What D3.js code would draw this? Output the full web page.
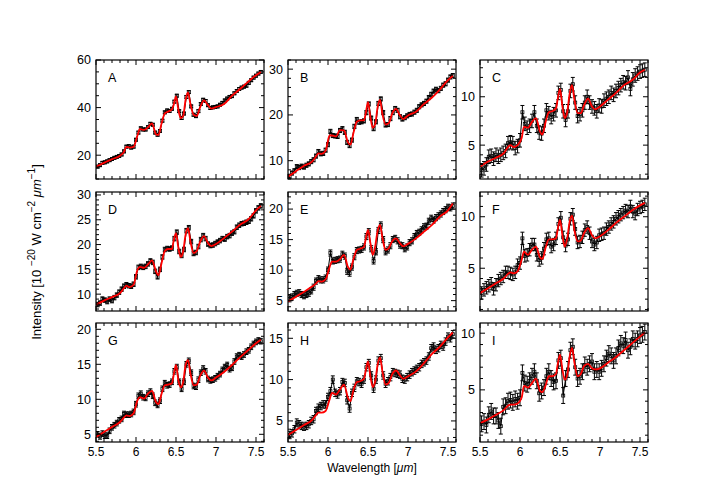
<!DOCTYPE html>
<html>
<head>
<meta charset="utf-8">
<script src="https://cdn.jsdelivr.net/npm/d3@7"></script>
<style>
body { margin: 0; background: #fff; }
text { font-family: "Liberation Sans", Arial, sans-serif; }
</style>
</head>
<body>
<script>
var w = 717, h = 502;

// observed wavelengths (micron)
var wave = [5.52,5.55,5.58,5.61,5.64,5.67,5.70,5.73,5.76,5.79,5.82,5.85,5.88,5.91,5.94,5.97,6.00,6.03,6.06,6.09,
  6.12,6.15,6.18,6.21,6.24,6.27,6.30,6.33,6.36,6.39,6.42,6.45,6.48,6.51,6.54,6.57,6.60,6.63,6.66,6.69,
  6.72,6.75,6.78,6.81,6.84,6.87,6.90,6.93,6.96,6.99,7.02,7.05,7.08,7.11,7.14,7.17,7.20,7.23,7.26,7.29,
  7.32,7.35,7.38,7.41,7.44,7.47,7.50,7.53,7.56];

// model (fit) wavelengths
var modelWave = [5.50,5.60,5.70,5.80,5.85,5.88,5.92,5.97,6.02,6.05,6.10,6.15,6.20,6.25,6.28,6.32,6.36,6.40,6.45,6.47,
  6.50,6.53,6.56,6.59,6.62,6.65,6.68,6.72,6.76,6.80,6.85,6.90,6.94,7.00,7.10,7.20,7.30,7.40,7.50,7.56];

var dataA = [15.2,15.8,16.8,17.0,17.4,17.9,18.4,18.9,19.3,19.7,20.3,21.6,23.6,23.8,23.2,23.6,26.5,29.5,31.3,30.8,
  30.8,31.8,33.2,32.8,29.5,28.6,30.2,34.5,38.0,38.8,38.6,39.5,42.5,45.0,38.5,35.6,37.5,44.5,46.5,40.5,
  37.0,36.4,38.5,41.5,43.3,42.8,41.0,39.8,40.1,40.3,40.5,41.2,42.0,43.0,43.8,44.5,44.8,46.0,47.0,47.8,
  48.4,48.8,49.2,50.4,51.5,52.6,53.4,54.3,55.0];
var dataB = [6.6,7.3,7.8,8.7,8.5,8.8,8.6,9.0,9.3,9.8,10.2,11.0,12.0,11.5,11.6,12.3,13.5,16.4,15.5,15.4,
  15.3,16.6,17.0,16.2,14.0,13.3,14.5,17.5,19.0,18.4,18.5,18.7,20.5,22.4,19.3,17.0,18.5,22.5,23.5,20.5,
  17.8,17.9,19.2,20.5,21.4,21.0,19.6,19.1,19.4,19.8,20.1,20.2,20.6,21.0,21.8,22.2,22.5,23.0,23.8,24.5,
  25.2,25.6,25.3,25.8,26.5,26.8,27.6,28.3,28.6];
var dataC = [2.4,2.6,3.0,3.8,3.9,3.6,4.0,3.8,4.0,4.2,4.4,5.2,5.3,5.2,4.7,4.9,5.5,8.4,7.2,6.8,
  7.0,7.5,8.4,7.0,6.3,6.2,7.0,8.6,8.3,7.9,8.2,8.6,10.4,10.7,8.5,7.6,8.5,10.6,11.3,9.4,
  8.0,8.2,8.6,9.4,10.0,9.4,9.0,8.8,8.5,9.1,9.0,9.6,9.8,10.0,10.4,10.2,10.6,10.9,11.2,11.5,
  11.4,12.0,10.8,11.8,12.2,12.4,12.6,12.7,12.8];
var dataD = [7.9,8.2,9.0,8.8,8.5,9.0,8.7,9.3,9.8,10.4,11.0,11.6,11.9,11.7,11.6,12.0,13.5,15.4,15.6,15.4,
  15.6,16.1,16.7,16.4,14.6,13.5,15.0,17.5,19.0,19.2,19.1,19.3,21.2,22.5,18.6,17.8,19.0,22.8,23.4,20.6,
  18.2,18.4,19.6,21.0,21.8,21.2,20.1,19.8,19.9,20.2,20.5,20.8,21.2,21.1,21.6,21.8,22.3,22.6,23.5,23.9,
  24.2,24.3,24.5,24.7,25.2,25.8,26.8,27.4,27.8];
var dataE = [5.3,5.6,6.0,6.2,6.3,6.0,5.8,6.0,6.2,6.6,7.2,8.2,8.6,8.4,8.4,8.7,10.0,12.8,11.5,11.6,
  11.7,11.8,12.6,12.3,9.8,9.5,10.5,12.2,13.2,13.3,13.4,13.8,15.5,16.3,13.5,11.5,13.0,16.5,17.4,15.0,
  13.0,13.3,14.0,15.0,15.2,14.8,14.1,14.0,13.5,13.8,14.5,14.8,15.5,16.0,16.2,16.6,17.1,17.2,18.0,18.5,
  18.2,18.6,18.9,19.2,19.6,19.9,20.3,20.2,20.5];
var dataF = [2.6,2.9,3.1,3.3,3.5,3.0,3.4,3.8,4.0,4.2,4.6,4.6,4.5,4.4,4.6,5.3,5.5,7.9,6.2,6.3,
  6.8,7.3,7.3,6.3,5.8,6.0,6.9,7.8,7.9,7.1,7.3,7.9,9.3,9.9,8.0,7.2,7.8,9.8,10.2,8.8,
  7.5,7.6,8.0,8.7,9.0,8.4,7.6,7.3,7.5,8.2,8.3,8.4,8.8,9.0,9.3,9.5,9.8,10.0,10.2,10.4,
  10.6,10.5,11.0,10.5,10.3,10.7,10.9,11.0,11.2];
var dataG = [5.0,4.7,5.1,4.8,4.8,5.5,6.0,6.3,6.6,7.0,7.2,7.9,7.8,7.8,7.9,8.2,9.3,10.5,10.8,10.3,
  10.2,10.8,11.1,10.5,9.5,9.2,9.8,11.5,12.3,12.0,12.1,12.5,14.0,14.6,12.5,11.5,12.5,15.0,15.5,13.8,
  11.9,11.8,12.8,13.8,14.4,14.0,12.9,12.7,12.8,13.0,13.3,13.6,14.2,14.6,14.9,14.3,14.5,15.4,16.1,16.3,
  16.1,16.4,16.8,17.0,17.5,17.9,18.2,18.4,18.3];
var dataH = [3.3,3.5,4.0,4.8,4.6,4.4,4.3,4.4,4.6,5.0,5.2,6.2,6.6,6.8,7.0,7.0,7.9,8.6,10.0,8.4,
  8.2,8.6,9.7,9.6,7.5,6.5,8.4,9.0,9.8,9.7,9.5,10.0,11.5,12.0,10.5,8.9,10.0,12.3,12.6,10.5,
  9.5,9.8,10.3,10.9,10.8,10.7,10.6,10.1,10.0,10.3,10.6,10.9,11.1,11.3,11.5,11.9,12.1,12.3,12.8,13.8,
  14.0,13.6,13.8,14.2,14.0,14.6,15.2,15.0,15.5];
var dataI = [2.0,2.2,1.9,2.8,3.1,2.7,2.7,2.3,1.8,3.5,3.6,4.0,4.1,3.9,4.2,4.0,4.3,6.5,5.6,5.5,
  5.8,6.2,6.6,5.8,4.7,4.9,5.2,6.2,6.6,6.0,5.7,5.8,7.6,7.8,4.5,6.0,6.8,8.5,8.8,7.0,
  6.0,6.2,6.6,7.2,7.0,7.3,7.5,6.6,6.8,6.6,6.9,7.3,7.8,8.2,8.0,7.6,8.0,8.7,9.1,8.9,
  9.4,8.5,8.8,9.5,9.3,9.5,9.8,9.9,10.1];

var modelA = [15.1,16.8,18.3,19.8,21.4,23.5,23.2,23.5,28.5,31.0,30.6,31.7,33.4,28.8,28.5,33.4,37.6,38.3,39.3,41.0,
  44.7,39.0,35.5,36.5,43.3,46.4,41.5,37.0,36.5,40.0,43.0,41.0,39.6,40.2,41.5,45.0,47.8,50.8,53.6,55.0];
var modelB = [6.5,7.7,8.9,9.8,10.9,11.6,11.5,12.2,15.5,15.5,15.3,16.7,16.6,14.0,13.5,16.2,18.5,18.8,18.8,20.2,
  22.8,19.5,17.2,18.0,21.7,23.3,20.2,17.9,18.2,20.2,21.3,19.9,19.1,19.9,20.7,22.4,23.8,25.6,27.6,28.5];
var modelC = [2.76,3.3,3.7,4.2,4.8,5.0,4.8,5.0,5.7,6.9,6.8,7.4,7.8,6.4,6.1,7.4,8.4,8.5,8.8,9.7,
  10.8,9.0,7.8,8.4,10.3,11.2,9.7,8.3,8.3,9.1,9.8,9.0,8.7,9.0,9.7,10.4,11.2,11.7,12.5,12.8];
var modelD = [7.85,8.7,9.4,10.2,11.2,11.7,11.4,11.9,15.0,15.5,15.3,16.0,16.8,14.6,13.8,16.3,18.7,19.1,19.1,20.7,
  22.3,19.3,17.5,18.7,22.0,23.3,20.7,18.3,18.7,20.5,21.7,20.3,19.7,20.1,21.3,22.6,24.0,25.0,26.9,27.8];
var modelE = [4.85,5.65,6.45,7.3,7.8,8.2,8.1,8.5,10.5,11.4,11.4,11.8,12.5,10.5,10.1,11.9,13.3,13.5,13.8,15.0,
  16.6,14.4,12.5,13.9,16.4,17.4,15.3,13.3,13.6,14.7,15.2,14.4,13.9,14.3,15.2,16.3,17.4,18.8,19.8,20.9];
var modelF = [2.58,3.06,3.55,4.03,4.45,4.6,4.5,4.7,5.8,6.6,6.3,6.8,7.1,6.05,5.9,7.0,7.8,7.8,7.9,8.7,
  9.7,8.2,7.1,7.9,9.5,10.1,8.7,7.6,7.7,8.4,8.9,8.2,7.9,8.1,8.7,9.4,10.0,10.6,11.1,11.35];
var modelG = [4.6,5.33,6.05,6.76,7.4,7.7,7.6,8.0,9.9,10.3,10.1,10.8,11.2,9.6,9.3,10.8,12.0,12.1,12.3,13.4,
  14.9,12.7,11.7,12.5,14.9,15.6,13.7,12.0,12.1,13.3,14.1,13.1,12.7,13.1,13.9,14.9,16.0,17.0,18.0,18.5];
var modelH = [3.3,3.9,4.5,5.1,5.7,6.0,6.0,6.2,7.6,8.4,8.2,8.8,9.4,7.8,7.4,8.8,9.7,9.8,10.1,11.0,
  12.2,10.4,9.1,9.8,11.8,12.7,11.0,9.4,9.6,10.6,11.1,10.5,10.1,10.4,11.0,12.0,13.1,14.0,15.1,15.7];
var modelI = [2.06,2.4,2.8,3.24,3.6,3.7,3.7,3.8,4.3,5.35,5.2,5.6,6.0,4.9,4.8,5.4,6.2,6.2,6.4,7.2,
  8.1,6.8,5.9,6.3,7.9,8.7,7.4,6.2,6.4,7.1,7.3,6.9,6.8,6.9,7.4,7.9,8.5,9.1,9.7,10.05];

var panelLabels = ["A", "B", "C", "D", "E", "F", "G", "H", "I"];
var allData = [dataA, dataB, dataC, dataD, dataE, dataF, dataG, dataH, dataI];
var allModel = [modelA, modelB, modelC, modelD, modelE, modelF, modelG, modelH, modelI];
var errors = [0.6, 0.45, 0.7, 0.45, 0.5, 0.6, 0.4, 0.45, 0.7];
var yDomains = [[10, 60], [6, 32], [1.5, 13.8], [6.6, 30.6], [3.3, 22.8], [0.85, 12.4], [3.9, 20.9], [2.45, 16.85], [0.4, 10.9]];
var yMajor = [[20, 40, 60], [10, 20, 30], [5, 10], [10, 15, 20, 25, 30], [5, 10, 15, 20], [5, 10], [5, 10, 15, 20], [5, 10, 15], [5, 10]];
var yMinorStep = [5, 2, 1, 1, 1, 1, 1, 1, 1];
var xMajor = [5.5, 6, 6.5, 7, 7.5];
var xDomain = [5.5, 7.6];

var lefts = [96, 288, 480];
var tops = [60, 192, 323];
var pw = 168, ph = 119;

var svg = d3.select("body").append("svg")
  .attr("width", w)
  .attr("height", h);

var x = d3.scaleLinear().domain(xDomain).range([0, pw]);
var xMinor = d3.range(5.5, 7.61, 0.1);

panelLabels.forEach(function(lab, i) {
  var col = i % 3, row = Math.floor(i / 3);
  var g = svg.append("g").attr("transform", "translate(" + lefts[col] + "," + tops[row] + ")");
  var y = d3.scaleLinear().domain(yDomains[i]).range([ph, 0]);
  var data = allData[i], model = allModel[i], err = errors[i];

  var clip = "clip" + i;
  g.append("clipPath").attr("id", clip).append("rect").attr("width", pw).attr("height", ph);
  var plot = g.append("g").attr("clip-path", "url(#" + clip + ")");

  // error bars
  plot.selectAll(".eb").data(data).enter().append("path")
    .attr("d", function(d, j) {
      var px = x(wave[j]), y0 = y(d - err), y1 = y(d + err);
      return "M" + px + "," + y0 + "V" + y1 +
        "M" + (px - 2) + "," + y0 + "H" + (px + 2) +
        "M" + (px - 2) + "," + y1 + "H" + (px + 2);
    })
    .attr("stroke", "#000").attr("stroke-width", 1).attr("fill", "none");

  // data line
  var dataLine = d3.line()
    .x(function(d, j) { return x(wave[j]); })
    .y(function(d) { return y(d); });
  plot.append("path").datum(data).attr("d", dataLine)
    .attr("fill", "none").attr("stroke", "#000").attr("stroke-width", 1);

  // squares
  plot.selectAll(".sq").data(data).enter().append("rect")
    .attr("x", function(d, j) { return x(wave[j]) - 1.5; })
    .attr("y", function(d) { return y(d) - 1.5; })
    .attr("width", 3).attr("height", 3)
    .attr("fill", "none").attr("stroke", "#000").attr("stroke-width", 0.8);

  // model
  var modelLine = d3.line()
    .x(function(d, j) { return x(modelWave[j]); })
    .y(function(d) { return y(d); })
    .curve(d3.curveMonotoneX);
  plot.append("path").datum(model).attr("d", modelLine)
    .attr("fill", "none").attr("stroke", "#f00").attr("stroke-width", 1.8);

  // ticks on all four sides
  var ticks = g.append("g").attr("stroke", "#000").attr("stroke-width", 1);
  xMinor.forEach(function(v) {
    var isMajor = Math.abs(v * 2 - Math.round(v * 2)) < 1e-6;
    var len = isMajor ? 5 : 3, px = x(v);
    ticks.append("line").attr("x1", px).attr("x2", px).attr("y1", ph).attr("y2", ph - len);
    ticks.append("line").attr("x1", px).attr("x2", px).attr("y1", 0).attr("y2", len);
  });
  var st = yMinorStep[i], dom = yDomains[i];
  d3.range(Math.ceil(dom[0] / st) * st, dom[1] + 1e-6, st).forEach(function(v) {
    var isMajor = yMajor[i].indexOf(Math.round(v * 1000) / 1000) >= 0;
    var len = isMajor ? 5 : 3, py = y(v);
    ticks.append("line").attr("x1", 0).attr("x2", len).attr("y1", py).attr("y2", py);
    ticks.append("line").attr("x1", pw).attr("x2", pw - len).attr("y1", py).attr("y2", py);
  });

  // y tick labels
  g.selectAll(".yl").data(yMajor[i]).enter().append("text")
    .attr("x", -5).attr("y", function(d) { return y(d); })
    .attr("dy", "0.35em").attr("text-anchor", "end")
    .attr("font-size", 12.5).text(function(d) { return d; });

  // x tick labels on bottom row
  if (row === 2) {
    g.selectAll(".xl").data(xMajor).enter().append("text")
      .attr("x", function(d) { return x(d); }).attr("y", ph + 14)
      .attr("text-anchor", "middle").attr("font-size", 12)
      .text(function(d) { return d; });
  }

  // frame
  g.append("rect").attr("width", pw).attr("height", ph)
    .attr("fill", "none").attr("stroke", "#000").attr("stroke-width", 1.2);

  g.append("text").attr("x", 12).attr("y", 22).attr("font-size", 12.5).text(lab);
});

// axis titles
var xt = svg.append("text").attr("x", 372).attr("y", 472)
  .attr("text-anchor", "middle").attr("font-size", 12);
xt.append("tspan").text("Wavelength [");
xt.append("tspan").attr("font-style", "italic").text("\u03bcm");
xt.append("tspan").text("]");

var yt = svg.append("text")
  .attr("transform", "translate(41,252) rotate(-90)")
  .attr("text-anchor", "middle").attr("font-size", 13);
yt.append("tspan").text("Intensity [10 ");
yt.append("tspan").attr("dy", -6).attr("font-size", 10).text("\u221220");
yt.append("tspan").attr("dy", 6).text(" W cm");
yt.append("tspan").attr("dy", -6).attr("font-size", 10).text("\u22122");
yt.append("tspan").attr("dy", 6).text("  ");
yt.append("tspan").attr("font-style", "italic").text("\u03bcm");
yt.append("tspan").attr("dy", -6).attr("font-size", 10).text("\u22121");
yt.append("tspan").attr("dy", 6).text("]");
</script>
</body>
</html>
